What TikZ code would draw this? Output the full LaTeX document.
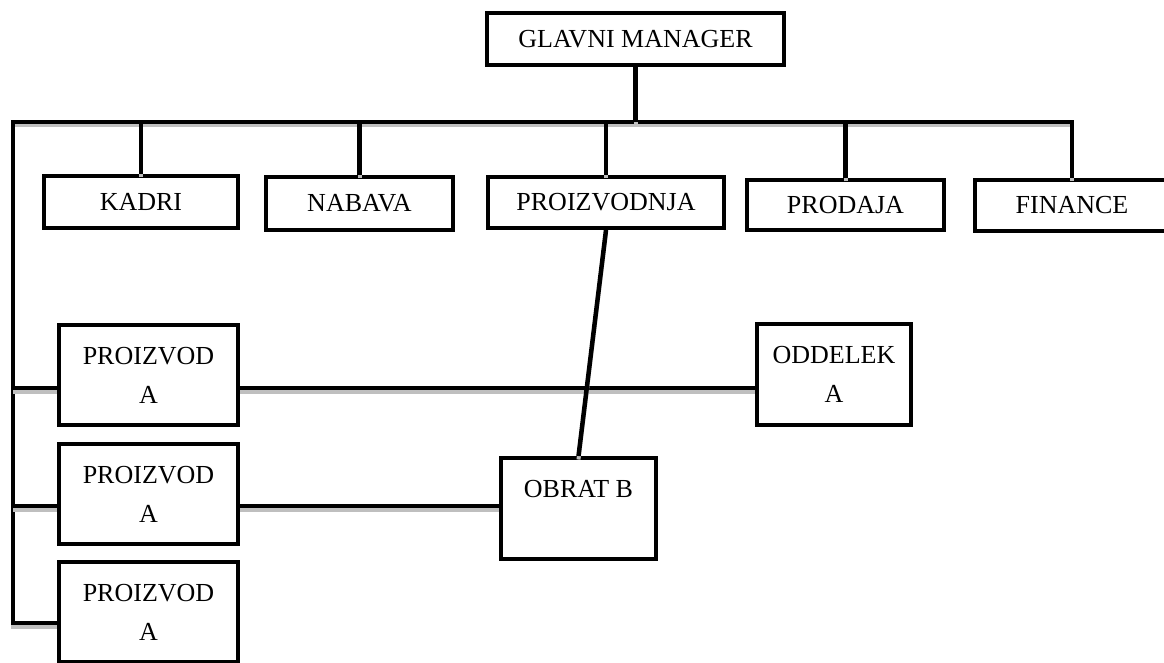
\documentclass[tikz,border=0pt]{standalone}
\usepackage{fontspec}
\setmainfont{Liberation Serif}
\usepackage{tikz}

\begin{document}
\begin{tikzpicture}
  [x=1pt,y=-1pt,
   every node/.style={draw,line width=4pt,fill=white,align=center,inner sep=0pt,
     font=\fontsize{26}{39}\selectfont},
   wire/.style={line width=4.5pt,line join=miter,
     preaction={draw=gray!50,line width=4pt,transform canvas={yshift=-3.5pt}}}]
  \useasboundingbox (0,0) rectangle (1164,663);
  \clip (0,0) rectangle (1164,663);

  \node[minimum width=297,minimum height=52] (gm) at (635.5,39) {GLAVNI MANAGER};
  \node[minimum width=194,minimum height=52] (kadri) at (141,202) {KADRI};
  \node[minimum width=187,minimum height=53] (nabava) at (359.5,203.5) {NABAVA};
  \node[minimum width=236,minimum height=51] (proizvodnja) at (606,202.5) {PROIZVODNJA};
  \node[minimum width=197,minimum height=50] (prodaja) at (845.5,205) {PRODAJA};
  \node[minimum width=194,minimum height=51] (finance) at (1072,205.5) {FINANCE};
  \node[minimum width=179,minimum height=100] (p1) at (148.5,375) {PROIZVOD\\A};
  \node[minimum width=179,minimum height=100] (p2) at (148.5,494) {PROIZVOD\\A};
  \node[minimum width=179,minimum height=100] (p3) at (148.5,612) {PROIZVOD\\A};
  \node[minimum width=154,minimum height=101] (oddelek) at (834,374.5) {ODDELEK\\A};
  \node[minimum width=155,minimum height=101] (obrat) at (578.5,508.5) {OBRAT B\\ ~};

  \coordinate (top) at (13,122);
  \coordinate (b1) at (13,388);
  \coordinate (b2) at (13,506);
  \coordinate (b3) at (13,623);

  \draw[wire] (b3 -| p3.west) -- (b3) -- (top) -| (finance.north);
  \draw[wire] (gm.south) -- (gm |- top);
  \foreach \n in {kadri,nabava,proizvodnja,prodaja}
    \draw[wire] (\n.north) -- (\n |- top);
  \foreach \b/\n in {b1/p1,b2/p2}
    \draw[wire] (\b) -- (\b -| \n.west);
  \draw[wire] (b1 -| p1.east) -- (b1 -| oddelek.west);
  \draw[wire] (b2 -| p2.east) -- (b2 -| obrat.west);
  \draw[wire] (proizvodnja.south) -- (obrat.north);

\end{tikzpicture}
\end{document}
